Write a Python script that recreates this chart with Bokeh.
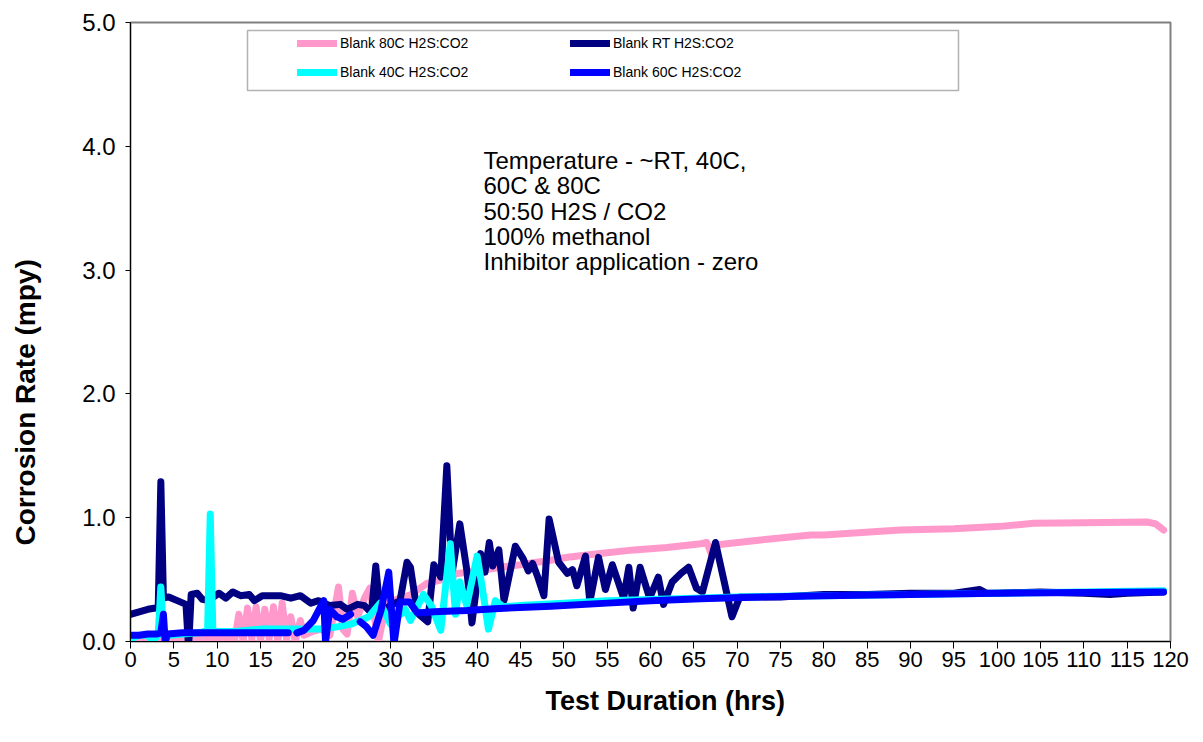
from bokeh.plotting import figure
from bokeh.models import (Range1d, FixedTicker, PrintfTickFormatter, Legend, LegendItem,
                          Label, BoxAnnotation, Title)
from bokeh.embed import file_html
from bokeh.resources import INLINE
import numpy as np

# ---------------- data ----------------
t_80c = [0, 2, 4, 6, 8, 10, 11.5, 12, 12.5, 13, 13.5, 14, 14.5, 15, 15.5, 16, 16.5, 17, 17.5,
         18, 18.5, 19, 19.6, 20, 21, 22, 23, 24, 24.5, 25, 25.6, 26.2, 27, 27.6, 28.6, 29.5,
         30.7, 32.4, 34.2, 36, 37.7, 40, 42.7, 45, 46.9, 48, 50.4, 54.2, 58.1, 61.9, 65.8,
         66.5, 67, 67.5, 72.7, 78.5, 80, 88.8, 95, 100.4, 104.2, 110, 117.3, 118.3, 119.2]
v_80c = [0.02, 0.02, 0.02, 0.02, 0.02, 0.02, 0.02, 0.0, 0.22, 0.0, 0.27, 0.02, 0.28, 0.0, 0.26,
         0.02, 0.28, 0.0, 0.31, 0.02, 0.2, 0.0, 0.17, 0.05, 0.08, 0.1, 0.05, 0.44, 0.1, 0.06,
         0.39, 0.2, 0.35, 0.43, 0.0, 0.3, 0.34, 0.38, 0.47, 0.5, 0.55, 0.57, 0.6, 0.62, 0.64,
         0.65, 0.68, 0.71, 0.74, 0.76, 0.79, 0.80, 0.71, 0.78, 0.82, 0.86, 0.86, 0.9, 0.91,
         0.93, 0.955, 0.96, 0.965, 0.95, 0.90]

t_rt = [0, 1, 2, 2.9, 3.2, 3.5, 3.8, 4.4, 5.4, 6.4, 6.7, 7.0, 7.7, 8.3, 9, 10.2, 11, 11.8,
        12.7, 13.7, 14.3, 15.2, 16.2, 17.3, 18.5, 19.6, 20.8, 21.7, 23, 24.2, 25, 26.2, 27,
        27.8, 28.3, 28.8, 30, 31.1, 31.9, 32.3, 33.1, 34.3, 35, 35.8, 36.5, 37.1, 38, 38.8,
        39.4, 40.4, 40.9, 41.4, 41.8, 42.5, 43.1, 44.4, 45.3, 45.9, 46.4, 47, 47.7, 48.3, 49.4,
        50.4, 51, 51.5, 52.5, 53, 54, 54.8, 55.6, 56.9, 57.5, 58, 58.8, 59.9, 60.9, 61.5, 62.5,
        63.5, 64.4, 65.3, 66, 67.5, 69.4, 70.3, 75, 80, 85, 90, 95, 98, 98.8, 100, 105, 110,
        113, 115, 119.2]
v_rt = [0.22, 0.24, 0.26, 0.27, 0.28, 1.29, 0.35, 0.36, 0.33, 0.30, -0.05, 0.38, 0.39, 0.34,
        0.33, 0.39, 0.35, 0.40, 0.37, 0.38, 0.33, 0.37, 0.37, 0.37, 0.35, 0.37, 0.31, 0.33,
        0.29, 0.30, 0.26, 0.30, 0.29, 0.23, 0.61, 0.24, 0.29, 0.33, 0.64, 0.60, 0.23, 0.16,
        0.62, 0.52, 1.42, 0.55, 0.95, 0.58, 0.15, 0.71, 0.56, 0.80, 0.61, 0.74, 0.33, 0.77,
        0.67, 0.57, 0.63, 0.52, 0.37, 0.99, 0.64, 0.55, 0.58, 0.45, 0.69, 0.32, 0.68, 0.42,
        0.62, 0.35, 0.60, 0.27, 0.60, 0.35, 0.52, 0.30, 0.48, 0.55, 0.60, 0.43, 0.40, 0.80,
        0.20, 0.36, 0.36, 0.38, 0.38, 0.39, 0.39, 0.42, 0.39, 0.39, 0.40, 0.39, 0.38, 0.39, 0.40]

t_40c = [0, 1, 2, 2.5, 3.2, 3.5, 3.8, 4.5, 6, 8, 8.9, 9.2, 9.5, 10, 12, 15, 18, 20, 22, 24,
         25.4, 26.5, 27.5, 28.8, 30, 31.7, 32.3, 33.8, 34.7, 35.8, 36.9, 37.5, 38, 38.8, 40,
         40.6, 41.3, 42.1, 43, 45, 50, 55, 60, 65, 70, 80, 90, 100, 110, 119.2]
v_40c = [0.02, 0.05, 0.05, 0.0, 0.05, 0.44, 0.05, 0.05, 0.06, 0.07, 0.09, 1.03, 0.09, 0.08,
         0.08, 0.1, 0.1, 0.1, 0.1, 0.12, 0.14, 0.17, 0.2, 0.31, 0.14, 0.26, 0.17, 0.38, 0.29,
         0.09, 0.79, 0.22, 0.48, 0.29, 0.69, 0.43, 0.1, 0.33, 0.28, 0.29, 0.31, 0.33, 0.34,
         0.35, 0.36, 0.37, 0.38, 0.39, 0.40, 0.41]

t_60c = [0, 1, 2, 3, 3.5, 3.8, 4.0, 4.3, 6, 8, 10, 12, 14, 16, 18.2, np.nan, 19.2, 20, 21.1,
         22.3, 22.5, 23, 23.8, 24.5, 25.4, np.nan, 26.5, 27.2, 28, 28.9, 29.8, 30.4, 31.1, 32.2,
         33.1, 35, 38.8, 42, 48.5, 55, 60, 65.8, 72.7, 80, 90, 100, 110, 119.2]
v_60c = [0.05, 0.05, 0.06, 0.06, 0.07, 0.22, 0.0, 0.06, 0.07, 0.07, 0.07, 0.07, 0.07, 0.07,
         0.07, np.nan, 0.07, 0.09, 0.17, 0.33, 0.0, 0.26, 0.2, 0.18, 0.22, np.nan, 0.16, 0.12,
         0.05, 0.25, 0.56, -0.02, 0.32, 0.32, 0.23, 0.24, 0.25, 0.265, 0.285, 0.31, 0.33,
         0.345, 0.36, 0.37, 0.38, 0.39, 0.395, 0.40]

x_ticks = list(range(0, 121, 5))
y_ticks = [0, 1, 2, 3, 4, 5]

names = ["Blank 80C H2S:CO2", "Blank RT H2S:CO2", "Blank 40C H2S:CO2", "Blank 60C H2S:CO2"]
colors = ["#FF99CC", "#000080", "#00FFFF", "#0000FF"]

x_title = "Test Duration (hrs)"
y_title = "Corrosion Rate (mpy)"
note_lines = ["Temperature - ~RT, 40C,", "60C & 80C", "50:50 H2S / CO2",
              "100% methanol", "Inhibitor application - zero"]

# ---------------- figure ----------------
FONT = "Liberation Sans"
p = figure(width=1190, height=740, output_backend="svg", toolbar_location=None,
           x_range=Range1d(0, 120), y_range=Range1d(0, 5),
           min_border_left=130, min_border_right=20, min_border_top=22, min_border_bottom=99)
p.background_fill_color = "white"
p.border_fill_color = "white"
p.outline_line_color = "#808080"
p.outline_line_width = 2
p.grid.visible = False

series = [(t_80c, v_80c), (t_rt, v_rt), (t_40c, v_40c), (t_60c, v_60c)]
renderers = []
for (tx, vy), c in zip(series, colors):
    r = p.line(tx, vy, line_color=c, line_width=7, line_join="round", line_cap="round")
    renderers.append(r)

# axes
p.xaxis.ticker = FixedTicker(ticks=x_ticks)
p.yaxis.ticker = FixedTicker(ticks=y_ticks)
p.yaxis.formatter = PrintfTickFormatter(format="%.1f")
for ax in (p.xaxis, p.yaxis):
    ax.axis_line_color = "black"
    ax.axis_line_width = 1
    ax.major_tick_line_color = "black"
    ax.minor_tick_line_color = None
    ax.major_tick_in = 0
    ax.major_label_text_font = FONT
    ax.major_label_text_color = "black"
p.xaxis.major_tick_out = 7
p.yaxis.major_tick_out = 5
p.xaxis.major_label_text_font_size = "22px"
p.yaxis.major_label_text_font_size = "24px"
p.xaxis.major_label_standoff = 3
p.yaxis.major_label_standoff = 10

# axis titles as side-panel titles (positioned off-centre like the reference)
p.add_layout(Title(text=y_title + "\n ", align="left", offset=96, standoff=4,
                   vertical_align="bottom", text_font=FONT, text_font_style="bold",
                   text_font_size="28px", text_line_height=1.18, text_color="black"), "left")
p.add_layout(Title(text=x_title, align="left", offset=415, standoff=28, text_font=FONT,
                   text_font_style="bold", text_font_size="27px", text_color="black"), "below")

# legend box + legend
box = BoxAnnotation(left=117, right=828, bottom=551, top=611,
                    left_units="screen", right_units="screen",
                    bottom_units="screen", top_units="screen",
                    fill_color="white", fill_alpha=1.0, line_color="black", line_width=1.5)
p.add_layout(box)

items = [LegendItem(label=n, renderers=[r]) for n, r in zip(names, renderers)]
legend = Legend(items=items, location=(167, 559), orientation="horizontal", ncols=2,
                padding=0, spacing=9, glyph_width=40, glyph_height=20, label_standoff=3,
                label_width=221, label_text_font=FONT, label_text_font_size="14px",
                label_text_color="black", background_fill_alpha=0, border_line_alpha=0)
p.add_layout(legend)

# annotation text
for i, line in enumerate(note_lines):
    p.add_layout(Label(x=353, y=481 - i * 25.3, x_units="screen", y_units="screen",
                       text=line, text_font=FONT, text_font_size="24px",
                       text_color="black", text_baseline="alphabetic"))

open("out.html", "w").write(file_html(p, INLINE))
